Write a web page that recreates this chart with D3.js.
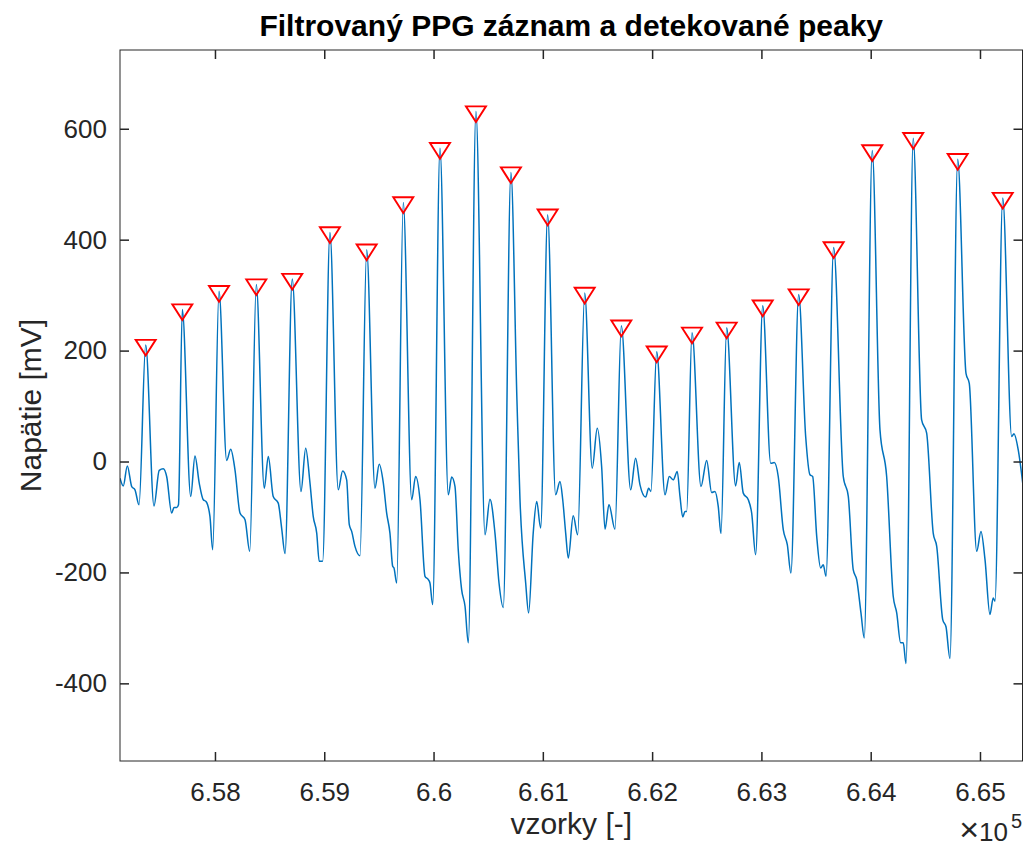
<!DOCTYPE html>
<html>
<head>
<meta charset="utf-8">
<script src="https://cdn.jsdelivr.net/npm/d3@7"></script>
<style>
  body { margin: 0; background: #fff; }
  text { font-family: Arial, "Liberation Sans", Helvetica, sans-serif; fill: #262626; }
</style>
</head>
<body>
<div id="chart"></div>
<script>
const W = 1026
const H = 852
const margin = { top: 50, right: 3.5, bottom: 91, left: 120 }
const w = W - margin.left - margin.right
const h = H - margin.top - margin.bottom

// filtered PPG signal (sample index, mV)
const samples = [657131, 657161, 657198, 657238, 657268, 657305, 657366,
  657442, 657490, 657527, 657558, 657604, 657625, 657650, 657666, 657701,
  657778, 657817, 657856, 657893, 657918, 657954, 657979, 658037,
  658107, 658144, 658183, 658229, 658275, 658318, 658378,
  658451, 658488, 658533, 658579, 658610, 658641, 658707,
  658787, 658830, 658869, 658899, 658931, 658954, 658985, 659052,
  659128, 659168, 659205, 659229, 659251, 659281, 659327, 659388,
  659464, 659503, 659540, 659571, 659601, 659626, 659638, 659663, 659723,
  659800, 659836, 659876, 659922, 659952, 659967, 659992, 660059,
  660135, 660166, 660196, 660226, 660257, 660288, 660318, 660388,
  660471, 660516, 660562, 660599, 660638, 660708,
  660763, 660791, 660843, 660870, 660912, 660944, 660980, 661044,
  661117, 661157, 661182, 661209, 661233, 661278, 661319, 661383,
  661452, 661498, 661538, 661569, 661605, 661660, 661718,
  661804, 661849, 661889, 661941, 661968, 661989, 662042,
  662118, 662157, 662193, 662230, 662255, 662280, 662301, 662316, 662365,
  662447, 662499, 662545, 662575, 662605, 662630, 662682,
  662764, 662797, 662834, 662880, 662911, 662947, 663012,
  663085, 663118, 663154, 663200, 663237, 663270, 663341,
  663405, 663444, 663469, 663506, 663542, 663566, 663591, 663661,
  663749, 663795, 663840, 663872, 663911, 663941, 664014,
  664085, 664146, 664206, 664238, 664274, 664298, 664323, 664389,
  664466, 664512, 664572, 664604, 664659, 664689, 664725, 664796,
  664872, 664902, 664970, 665009, 665046, 665091, 665121, 665137, 665208,
  665290, 665311, 665350, 665391]

const signal = [-30, -44, -8, -45, -51, -78, 210,
  -80, -16, -13, -27, -93, -83, -83, -78, 274,
  -63, 10, -39, -69, -72, -99, -159, 307,
  2, 22, -15, -93, -105, -162, 319,
  -48, 9, -63, -75, -120, -166, 329,
  -54, 24, -38, -99, -129, -180, -180, 413,
  -51, -17, -33, -114, -126, -153, -170, 382,
  -48, -5, -38, -93, -129, -189, -192, -219, 467,
  -69, -27, -69, -207, -213, -219, -258, 565,
  -60, -28, -45, -159, -231, -261, -327, 631,
  -132, -68, -129, -219, -263, 521,
  111, -69, -219, -273, -129, -72, -120, 445,
  -60, -36, -69, -129, -174, -98, -132, 304,
  -12, 60, -9, -122, -78, -122, 245,
  -51, 6, -42, -64, -48, -54, 198,
  -60, -27, -33, -18, -63, -100, -90, -90, 232,
  -45, 2, -56, -54, -81, -130, 241,
  -44, -2, -57, -69, -93, -168, 281,
  -3, -2, -27, -123, -150, -201, 301,
  45, -24, -27, -135, -192, -186, -207, 386,
  -27, -63, -195, -213, -273, -318, 561,
  57, -27, -243, -273, -327, -327, -364, 583,
  75, 51, -129, -153, -285, -298, -355, 545,
  159, 141, -162, -126, -177, -276, -246, -252, 475,
  45, 50, 21, -39]

// detected peaks
const peakLocs = [657366, 657701, 658037, 658378, 658707, 659052, 659388, 659723,
  660059, 660388, 660708, 661044, 661383, 661718, 662042, 662365,
  662682, 663012, 663341, 663661, 664014, 664389, 664796, 665208]
const peakVals = [210, 274, 307, 319, 329, 413, 382, 467,
  565, 631, 521, 445, 304, 245, 198, 232,
  241, 281, 301, 386, 561, 583, 545, 475]

const xTicks = [658000, 659000, 660000, 661000, 662000, 663000, 664000, 665000]
const yTicks = [-400, -200, 0, 200, 400, 600]

const data = samples.map((s, i) => ({ s: s, v: signal[i] }))
const peaks = peakLocs.map((s, i) => ({ s: s, v: peakVals[i] }))

const svg = d3.select('#chart').append('svg')
  .attr('width', W)
  .attr('height', H)

const g = svg.append('g')
  .attr('transform', `translate(${margin.left},${margin.top})`)

const x = d3.scaleLinear().domain([657131, 665389]).range([0, w])
const y = d3.scaleLinear().domain([-540, 742]).range([h, 0])

g.append('clipPath').attr('id', 'clip')
  .append('rect').attr('width', w).attr('height', h)

// signal
const line = d3.line()
  .x(d => x(d.s))
  .y(d => y(d.v))
  .curve(d3.curveMonotoneX)

g.append('path')
  .datum(data)
  .attr('clip-path', 'url(#clip)')
  .attr('d', line)
  .attr('fill', 'none')
  .attr('stroke', '#0072BD')
  .attr('stroke-width', 1.5)
  .attr('stroke-linejoin', 'round')

// peak markers (downward triangles)
g.selectAll('.peak')
  .data(peaks)
  .enter().append('path')
  .attr('class', 'peak')
  .attr('transform', d => `translate(${x(d.s)},${y(d.v)})`)
  .attr('d', 'M-10,-5.2L10,-5.2L0,10.5Z')
  .attr('fill', 'none')
  .attr('stroke', '#ff0000')
  .attr('stroke-width', 1.9)

// axes, ticks pointing inward on all four sides
const fmtX = d => String(+(d / 1e5).toFixed(2))

const xb = g.append('g').attr('transform', `translate(0,${h})`)
  .call(d3.axisBottom(x).tickValues(xTicks).tickFormat(fmtX).tickSize(-9).tickSizeOuter(0))
xb.selectAll('text').attr('y', 40).attr('dy', null).style('font-size', '26px')

g.append('g')
  .call(d3.axisTop(x).tickValues(xTicks).tickFormat('').tickSize(-9).tickSizeOuter(0))

const yl = g.append('g')
  .call(d3.axisLeft(y).tickValues(yTicks).tickFormat(d => String(d))
    .tickSize(-9).tickSizeOuter(0).tickPadding(13))
yl.selectAll('text').style('font-size', '26px')

g.append('g').attr('transform', `translate(${w},0)`)
  .call(d3.axisRight(y).tickValues(yTicks).tickFormat('').tickSize(-9).tickSizeOuter(0))

g.selectAll('.domain').remove()
g.selectAll('.tick line').attr('stroke', '#262626').attr('stroke-width', 1.5)

g.append('rect')
  .attr('width', w)
  .attr('height', h)
  .attr('fill', 'none')
  .attr('stroke', '#262626')
  .attr('stroke-width', 1)

// texts
svg.append('text')
  .attr('x', margin.left + w / 2)
  .attr('y', 36)
  .attr('text-anchor', 'middle')
  .style('font-size', '30px')
  .style('font-weight', 'bold')
  .style('fill', '#000')
  .text('Filtrovaný PPG záznam a detekované peaky')

svg.append('text')
  .attr('x', margin.left + w / 2)
  .attr('y', 834)
  .attr('text-anchor', 'middle')
  .style('font-size', '30px')
  .text('vzorky [-]')

svg.append('text')
  .attr('transform', `translate(41,${margin.top + h / 2}) rotate(-90)`)
  .attr('text-anchor', 'middle')
  .style('font-size', '30px')
  .text('Napätie [mV]')

// exponent label
const expo = svg.append('text')
  .attr('x', 1008)
  .attr('y', 841)
  .attr('text-anchor', 'end')
  .style('font-size', '26px')
expo.append('tspan').style('font-size', '34px').text('\u00d7')
expo.append('tspan').text('10')
svg.append('text')
  .attr('x', 1011)
  .attr('y', 828)
  .style('font-size', '20px')
  .text('5')
</script>
</body>
</html>
